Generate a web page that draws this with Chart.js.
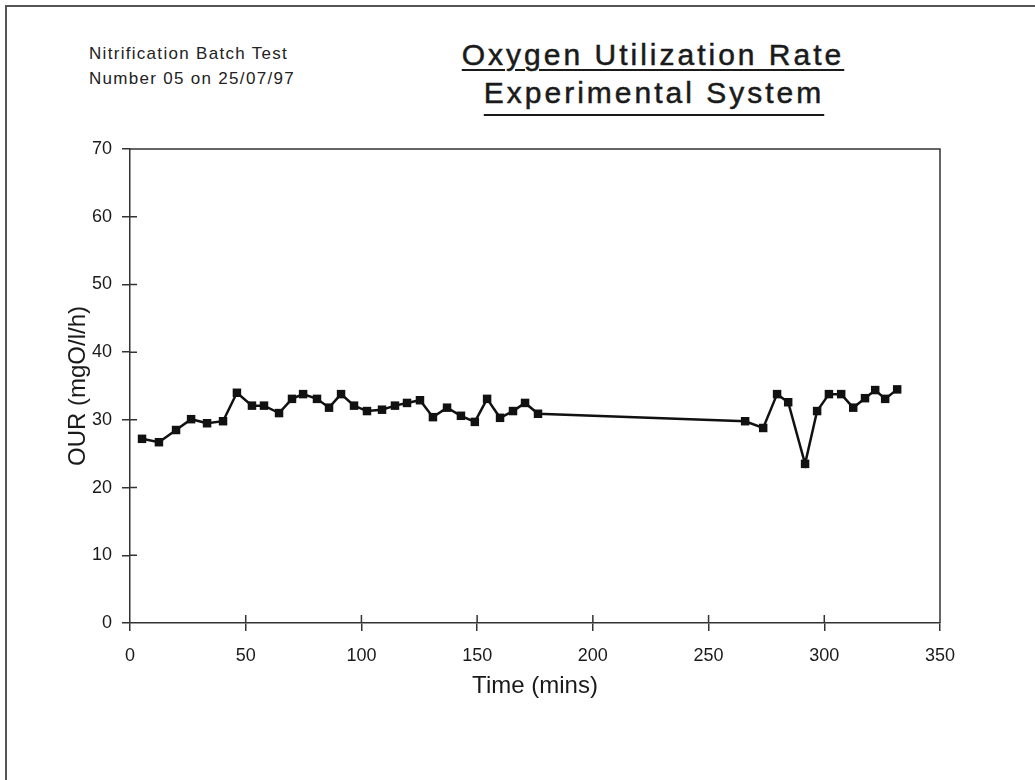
<!DOCTYPE html>
<html>
<head>
<meta charset="utf-8">
<script src="https://cdn.jsdelivr.net/npm/chart.js@4"></script>
<style>
  body { margin: 0; background: #fff; }
  #wrap { position: relative; width: 1035px; height: 780px; overflow: hidden; }
  #frame {
    position: absolute; left: 5px; top: 5px; width: 1040px; height: 790px;
    border-top: 2px solid #555; border-left: 2px solid #555;
  }
  .note {
    position: absolute; left: 89px; font-family: "Liberation Sans", Arial, sans-serif;
    font-size: 17px; letter-spacing: 1.3px; color: #222; line-height: 20px;
  }
  .title {
    position: absolute; font-family: "Liberation Sans", Arial, sans-serif;
    font-size: 30px; letter-spacing: 3px; color: #1a1a1a; line-height: 30px;
    -webkit-text-stroke: 0.5px #1a1a1a;
    text-decoration: underline; text-decoration-thickness: 2px;
    white-space: nowrap; transform: translateX(-50%);
  }
  canvas { position: absolute; left: 0; top: 0; }
</style>
</head>
<body>
<div id="wrap">
  <div id="frame"></div>
  <div class="note" style="top:44px">Nitrification Batch Test</div>
  <div class="note" style="top:69px">Number 05 on 25/07/97</div>
  <div class="title" style="left:653px; top:40px; text-underline-offset:4px">Oxygen Utilization Rate</div>
  <div class="title" style="left:654px; top:78px; text-underline-offset:11px">Experimental System</div>
  <canvas id="our-chart" width="1035" height="780"></canvas>
</div>
<script>
const timeMins = [5.2, 12.5, 19.9, 26.4, 33.3, 40.2, 46.2, 52.7, 57.9, 64.4,
  70.0, 74.8, 80.8, 86.0, 91.2, 96.8, 102.4, 108.9, 114.5, 119.7,
  125.3, 130.9, 137.0, 143.0, 149.0, 154.3, 159.9, 165.5, 170.7, 176.3,
  265.8, 273.6, 279.6, 284.4, 291.7, 296.9, 302.0, 307.3, 312.5, 317.6,
  322.0, 326.3, 331.5];
const ourValues = [27.2, 26.7, 28.5, 30.1, 29.5, 29.8, 34.0, 32.1, 32.1, 31.0,
  33.1, 33.8, 33.1, 31.8, 33.8, 32.1, 31.3, 31.5, 32.1, 32.5,
  32.9, 30.4, 31.8, 30.6, 29.7, 33.1, 30.3, 31.3, 32.5, 30.9,
  29.8, 28.8, 33.8, 32.6, 23.5, 31.3, 33.8, 33.8, 31.8, 33.2,
  34.4, 33.1, 34.5];
const xTitle = "Time (mins)";
const yTitle = "OUR (mgO/l/h)";

const points = timeMins.map((t, i) => ({ x: t, y: ourValues[i] }));

// box around the plot plus short inner tick marks
const framePlugin = {
  id: "frame",
  afterDraw(chart) {
    const { ctx, chartArea: a, scales } = chart;
    ctx.save();
    ctx.strokeStyle = "#333";
    ctx.lineWidth = 1.5;
    ctx.beginPath();
    ctx.moveTo(a.left, a.top);
    ctx.lineTo(a.right, a.top);
    ctx.lineTo(a.right, a.bottom);
    ctx.stroke();
    ctx.beginPath();
    scales.x.ticks.forEach((t) => {
      if (t.value <= 0 || t.value >= 350) return;
      const px = scales.x.getPixelForValue(t.value);
      ctx.moveTo(px, a.bottom);
      ctx.lineTo(px, a.bottom - 8);
    });
    scales.y.ticks.forEach((t) => {
      if (t.value <= 0 || t.value >= 70) return;
      const py = scales.y.getPixelForValue(t.value);
      ctx.moveTo(a.left, py);
      ctx.lineTo(a.left + 7, py);
    });
    ctx.stroke();
    ctx.restore();
  },
};

const font = "'Liberation Sans', Arial, sans-serif";

new Chart(document.getElementById("our-chart"), {
  type: "line",
  data: {
    datasets: [
      {
        data: points,
        borderColor: "#111",
        borderWidth: 2.5,
        backgroundColor: "#111",
        pointStyle: "rect",
        pointRadius: 6,
        pointBorderWidth: 0,
        tension: 0,
      },
    ],
  },
  options: {
    responsive: false,
    animation: false,
    layout: { padding: { left: 55, top: 149, right: 95, bottom: 77 } },
    plugins: { legend: { display: false }, tooltip: { enabled: false } },
    scales: {
      x: {
        type: "linear",
        min: 0,
        max: 350,
        ticks: { stepSize: 50, color: "#1a1a1a", font: { family: font, size: 18 }, padding: 14 },
        grid: { drawOnChartArea: false, tickLength: 8, color: "#333", lineWidth: 1.5 },
        border: { color: "#333", width: 1.5 },
        title: { display: true, text: xTitle, color: "#1a1a1a", font: { family: font, size: 24 }, padding: { top: 0, bottom: 2 } },
        afterFit(scale) { scale.height = 80; },
      },
      y: {
        min: 0,
        max: 70,
        ticks: { stepSize: 10, color: "#1a1a1a", font: { family: font, size: 18 }, padding: 10 },
        grid: { drawOnChartArea: false, tickLength: 8, color: "#333", lineWidth: 1.5 },
        border: { color: "#333", width: 1.5 },
        title: { display: true, text: yTitle, color: "#1a1a1a", font: { family: font, size: 24 }, padding: { top: 9, bottom: 0 } },
        afterFit(scale) { scale.width = 75; },
      },
    },
  },
  plugins: [framePlugin],
});
</script>
</body>
</html>
